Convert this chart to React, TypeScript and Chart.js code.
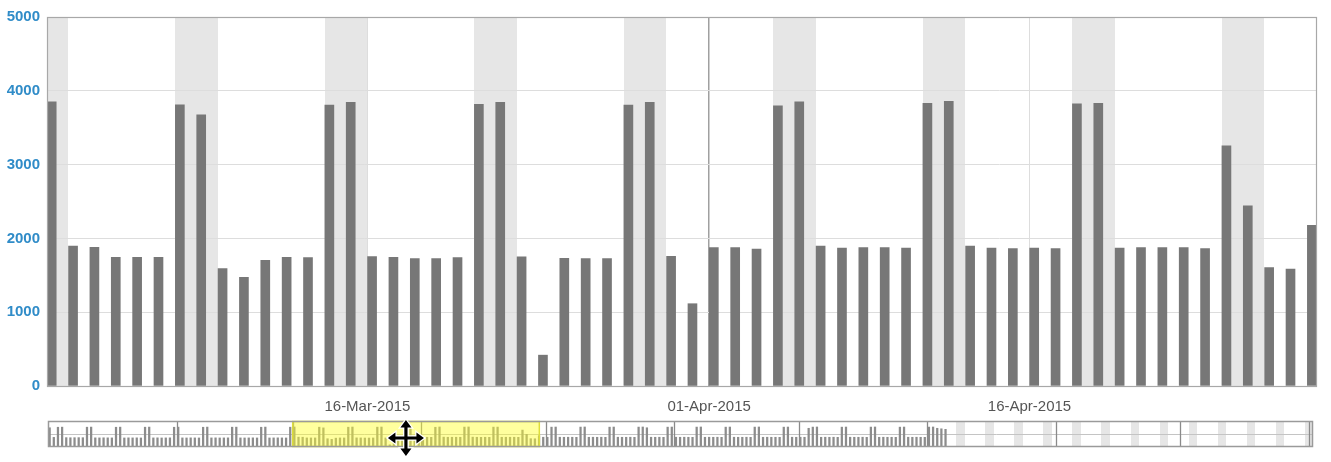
import React, { useEffect, useRef } from "react";
import { Chart, registerables } from "chart.js";

Chart.register(...registerables);

const FONT = "'Liberation Sans', Arial, sans-serif";

// ---------- Main view: 1 Mar 2015 .. 29 Apr 2015 ----------
const viewYear = 2015;
const viewMonth = 2; // March
const viewSpanDays = 59.46;
const dailyValues = [
  3851, 1897, 1879, 1744, 1744, 1744, 3810, 3675, 1590, 1472,
  1703, 1744, 1740, 3806, 3843, 1753, 1744, 1726, 1726, 1740,
  3815, 3843, 1749, 418, 1730, 1726, 1726, 3806, 3843, 1757,
  1115, 1875, 1875, 1856, 3797, 3851, 1897, 1870, 1875, 1875,
  1870, 3829, 3856, 1897, 1870, 1861, 1870, 1861, 3824, 3829,
  1870, 1875, 1875, 1875, 1861, 3254, 2440, 1604, 1585, 2178,
];
const yTicks = [0, 1000, 2000, 3000, 4000, 5000];
const yTickLabels = ["0", "1000", "2000", "3000", "4000", "5000"];
const xTickDays = [15, 31, 46];
const xTickLabels = ["16-Mar-2015", "01-Apr-2015", "16-Apr-2015"];
const monthStartTickDay = 31;

// ---------- Navigator: 1 Jan 2015 .. 1 Nov 2015 ----------
const navYear = 2015;
const navSpanDays = 305;
const navJan = [
  3700, 1850, 3800, 3820, 1800, 1780, 1790, 1800, 1790, 3810,
  3830, 1760, 1750, 1770, 1760, 1750, 3800, 3820, 1740, 1760,
  1750, 1760, 1740, 3810, 3830, 1750, 1760, 1740, 1750, 1760,
  3800,
];
const navFeb = [
  3820, 1750, 1740, 1760, 1750, 1740, 3800, 3830, 1750, 1760,
  1740, 1750, 1760, 3810, 3820, 1750, 1740, 1750, 1760, 1740,
  3800, 3830, 1740, 1750, 1760, 1750, 1740, 3810,
];
const navAprEnd = [1880];
const navMay = [
  1870, 3820, 3840, 1880, 1870, 1880, 1875, 1860, 3830, 3850,
  1870, 1880, 1870, 1880, 1860, 3820, 3840, 1880, 1870, 1870,
  1880, 1860, 3830, 3850, 3700, 1880, 1870, 1880, 1860, 3820,
  3840,
];
const navJun = [
  1880, 1870, 1880, 1870, 1860, 3830, 3850, 1870, 1880, 1870,
  1880, 1860, 3820, 3840, 1880, 1870, 1870, 1880, 1860, 3830,
  3850, 1870, 1880, 1870, 1870, 1860, 3820, 3840, 1880, 1870,
];
const navJul = [
  1880, 1870, 3600, 3830, 3850, 1870, 1880, 1870, 1880, 1860,
  3820, 3840, 1880, 1870, 1870, 1880, 1860, 3830, 3850, 1870,
  1880, 1870, 1870, 1860, 3820, 3840, 1880, 1870, 1880, 1870,
  1860,
];
const navAug = [3830, 3850, 3600, 3500, 3400];
const navValues = [
  ...navJan, ...navFeb, ...dailyValues, ...navAprEnd, ...navMay, ...navJun, ...navJul, ...navAug,
];
const navMonths = [0, 1, 2, 3, 4, 5, 6, 7, 8, 9, 10];
const cursorDay = 86.3;

function dayOffset(y: number, m: number, d: number, baseY: number, baseM: number) {
  const a = Date.UTC(baseY, baseM, 1);
  const b = Date.UTC(y, m, d);
  return Math.round((b - a) / 86400000);
}
function isWeekend(y: number, m: number, dayIdx: number) {
  const dow = new Date(Date.UTC(y, m, 1 + dayIdx)).getUTCDay();
  return dow === 0 || dow === 6;
}
// merged [start, end) day runs of weekends
function weekendRuns(y: number, m: number, from: number, to: number) {
  const runs: [number, number][] = [];
  for (let d = from; d < to; d++) {
    if (!isWeekend(y, m, d)) continue;
    const last = runs[runs.length - 1];
    if (last && last[1] === d) last[1] = d + 1;
    else runs.push([d, d + 1]);
  }
  return runs;
}
const navViewStart = dayOffset(viewYear, viewMonth, 1, navYear, 0);

function MainChart() {
  const ref = useRef<HTMLCanvasElement>(null);
  useEffect(() => {
    const plugin = {
      id: "mainDecor",
      beforeDraw(chart: any) {
        const { ctx, chartArea: a, scales } = chart;
        const x = scales.x;
        ctx.save();
        ctx.fillStyle = "#e6e6e6";
        weekendRuns(viewYear, viewMonth, 0, Math.ceil(viewSpanDays)).forEach(([d0, d1]) => {
          const x0 = Math.max(a.left, Math.round(x.getPixelForValue(d0)));
          const x1 = Math.min(a.right, Math.round(x.getPixelForValue(d1)));
          ctx.fillRect(x0, a.top, x1 - x0, a.bottom - a.top);
        });
        ctx.restore();
      },
      afterDraw(chart: any) {
        const { ctx, chartArea: a } = chart;
        ctx.save();
        ctx.strokeStyle = "#a8a8a8";
        ctx.lineWidth = 1.2;
        ctx.strokeRect(a.left + 0.5, a.top + 0.5, a.right - a.left - 1, a.bottom - a.top);
        ctx.restore();
      },
    };
    const chart = new Chart(ref.current as HTMLCanvasElement, {
      type: "bar",
      data: {
        datasets: [
          {
            data: dailyValues.map((v, i) => ({ x: i + 0.22, y: v })),
            backgroundColor: "#777777",
            borderWidth: 0,
            barThickness: 9,
          } as any,
        ],
      },
      options: {
        animation: false,
        responsive: true,
        maintainAspectRatio: false,
        events: [],
        layout: { padding: { left: 0, right: 14, top: 17, bottom: 0 } },
        plugins: { legend: { display: false }, tooltip: { enabled: false } },
        scales: {
          x: {
            type: "linear",
            min: 0,
            max: viewSpanDays,
            offset: false,
            afterBuildTicks: (s: any) => {
              s.ticks = xTickDays.map((v) => ({ value: v }));
            },
            afterFit: (s: any) => {
              s.height = 34;
            },
            ticks: {
              autoSkip: false,
              maxRotation: 0,
              padding: 12,
              color: "#555555",
              font: { family: FONT, size: 15 },
              callback: (v: any) => xTickLabels[xTickDays.indexOf(Number(v))] ?? "",
            },
            grid: {
              offset: false,
              drawTicks: false,
              color: (c: any) => (c.tick && c.tick.value === monthStartTickDay ? "#a0a0a0" : "#dddddd"),
              lineWidth: (c: any) => (c.tick && c.tick.value === monthStartTickDay ? 1.5 : 1),
            },
            border: { display: false },
          } as any,
          y: {
            min: 0,
            max: 5000,
            afterBuildTicks: (s: any) => {
              s.ticks = yTicks.map((v) => ({ value: v }));
            },
            afterFit: (s: any) => {
              s.width = 47;
            },
            ticks: {
              padding: 7,
              color: "#308cc8",
              font: { family: FONT, size: 15, weight: "bold" },
              callback: (v: any) => yTickLabels[yTicks.indexOf(Number(v))] ?? "",
            },
            grid: { drawTicks: false, color: "#dddddd" },
            border: { display: false },
          } as any,
        },
      },
      plugins: [plugin],
    });
    return () => chart.destroy();
  }, []);
  return (
    <div style={{ position: "absolute", left: 0, top: 0, width: 1331, height: 420 }}>
      <canvas ref={ref} />
    </div>
  );
}

function drawCursor(ctx: CanvasRenderingContext2D, cx: number, cy: number) {
  const L = 18, base = 10.5, hw = 5.5, sw = 1.6;
  const path = new Path2D();
  path.moveTo(cx + L, cy);
  path.lineTo(cx + base, cy - hw);
  path.lineTo(cx + base, cy - sw);
  path.lineTo(cx + sw, cy - sw);
  path.lineTo(cx + sw, cy - base);
  path.lineTo(cx + hw, cy - base);
  path.lineTo(cx, cy - L);
  path.lineTo(cx - hw, cy - base);
  path.lineTo(cx - sw, cy - base);
  path.lineTo(cx - sw, cy - sw);
  path.lineTo(cx - base, cy - sw);
  path.lineTo(cx - base, cy - hw);
  path.lineTo(cx - L, cy);
  path.lineTo(cx - base, cy + hw);
  path.lineTo(cx - base, cy + sw);
  path.lineTo(cx - sw, cy + sw);
  path.lineTo(cx - sw, cy + base);
  path.lineTo(cx - hw, cy + base);
  path.lineTo(cx, cy + L);
  path.lineTo(cx + hw, cy + base);
  path.lineTo(cx + sw, cy + base);
  path.lineTo(cx + sw, cy + sw);
  path.lineTo(cx + base, cy + sw);
  path.lineTo(cx + base, cy + hw);
  path.closePath();
  ctx.save();
  ctx.lineJoin = "miter";
  ctx.strokeStyle = "#ffffff";
  ctx.lineWidth = 2.5;
  ctx.stroke(path);
  ctx.fillStyle = "#000000";
  ctx.fill(path);
  ctx.restore();
}

function Navigator() {
  const ref = useRef<HTMLCanvasElement>(null);
  useEffect(() => {
    const plugin = {
      id: "navDecor",
      beforeDatasetsDraw(chart: any) {
        const { ctx, chartArea: a, scales } = chart;
        const x = scales.x, y = scales.y;
        ctx.save();
        ctx.fillStyle = "#e6e6e6";
        weekendRuns(navYear, 0, navValues.length, navSpanDays).forEach(([d0, d1]) => {
          const x0 = Math.max(a.left, Math.round(x.getPixelForValue(d0)));
          const x1 = Math.min(a.right, Math.round(x.getPixelForValue(d1)));
          ctx.fillRect(x0, a.top, x1 - x0, a.bottom - a.top);
        });
        ctx.strokeStyle = "#c4c4c4";
        ctx.lineWidth = 1;
        const gy = Math.round(y.getPixelForValue(2500)) + 0.5;
        ctx.beginPath();
        ctx.moveTo(a.left, gy);
        ctx.lineTo(a.right, gy);
        ctx.stroke();
        ctx.strokeStyle = "#8a8a8a";
        ctx.lineWidth = 1.3;
        navMonths.forEach((m) => {
          const d = dayOffset(navYear, m, 1, navYear, 0);
          if (d <= 0) return;
          const px = Math.round(x.getPixelForValue(d)) + 0.5;
          ctx.beginPath();
          ctx.moveTo(px, a.top);
          ctx.lineTo(px, a.bottom);
          ctx.stroke();
        });
        ctx.restore();
      },
      afterDraw(chart: any) {
        const { ctx, chartArea: a, scales } = chart;
        const x = scales.x;
        ctx.save();
        const h0 = x.getPixelForValue(navViewStart);
        const h1 = x.getPixelForValue(navViewStart + viewSpanDays);
        ctx.fillStyle = "rgba(255, 255, 40, 0.45)";
        ctx.fillRect(h0, a.top, h1 - h0, a.bottom - a.top);
        ctx.strokeStyle = "#dede3a";
        ctx.lineWidth = 1.5;
        ctx.strokeRect(h0, a.top + 0.5, h1 - h0, a.bottom - a.top - 1);
        ctx.strokeStyle = "#9a9a9a";
        ctx.lineWidth = 1.5;
        ctx.strokeRect(a.left + 0.5, a.top + 0.5, a.right - a.left - 1, a.bottom - a.top - 1);
        ctx.restore();
        drawCursor(ctx, x.getPixelForValue(cursorDay), a.top + 17);
      },
    };
    const chart = new Chart(ref.current as HTMLCanvasElement, {
      type: "bar",
      data: {
        datasets: [
          {
            data: navValues.map((v, i) => ({ x: i + 0.4, y: v })),
            backgroundColor: "#8c8c8c",
            borderWidth: 0,
            barThickness: 1.6,
          } as any,
        ],
      },
      options: {
        animation: false,
        responsive: true,
        maintainAspectRatio: false,
        events: [],
        layout: { padding: { left: 48, right: 18, top: 16, bottom: 15 } },
        plugins: { legend: { display: false }, tooltip: { enabled: false } },
        scales: {
          x: { type: "linear", display: false, min: 0, max: navSpanDays, offset: false } as any,
          y: { display: false, min: 0, max: 5000 },
        },
      },
      plugins: [plugin],
    });
    return () => chart.destroy();
  }, []);
  return (
    <div style={{ position: "absolute", left: 0, top: 405, width: 1331, height: 57 }}>
      <canvas ref={ref} />
    </div>
  );
}

export default function App() {
  return (
    <div style={{ position: "absolute", left: 0, top: 0, width: 1331, height: 462, background: "#ffffff" }}>
      <MainChart />
      <Navigator />
    </div>
  );
}
